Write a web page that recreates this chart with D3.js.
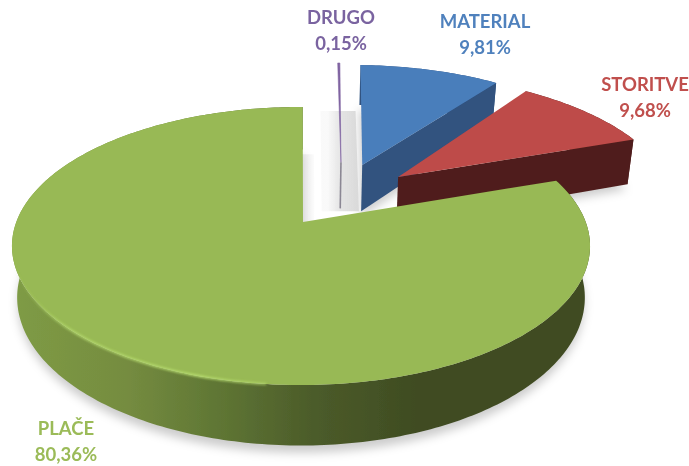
<!DOCTYPE html>
<html>
<head>
<meta charset="utf-8">
<script src="https://cdn.jsdelivr.net/npm/d3@7"></script>
<style>
  html, body { margin: 0; padding: 0; background: #fff; }
  text { font-family: Lato, "Open Sans", sans-serif; font-weight: 700; font-size: 18.5px; text-anchor: middle; }
</style>
</head>
<body>
<div id="chart"></div>
<script>
// chart data
const categories = ["DRUGO", "MATERIAL", "STORITVE", "PLAČE"];
const shares = [0.15, 9.81, 9.68, 80.36];
const shareLabels = ["0,15%", "9,81%", "9,68%", "80,36%"];

// colours, per category
const topColors = ["#7f63a1", "#4a7ebb", "#be4b48", "#98b954"];
const sideColors = ["#8b8794", "#30527f", "#4f1e1c", "#404b20"];
const textColors = ["#7a64a0", "#4f81bd", "#c0504d", "#9bbb59"];

// how far each slice is pulled out, in units of the pie radius
const pullU = [0.152, 0.232, 0.362, 0];
const pullV = [-0.48, -0.456, -0.354, 0];
// small turn of each slice around its own tip, radians
const turn = [0.01, 0.02, 0, 0.007];
// nudge of the tip alone
const tipU = [0, 0, 0, 0.007];
// label centres
const labelX = [341, 485, 645, 66];
const labelY = [24, 28, 91, 435];

const width = 689, height = 466;
const originX = 301, originY = 222;
const scaleU = 284.7, scaleV = 134.9, persp = 0.1727;
const depth = 50;

const svg = d3.select("#chart").append("svg")
  .attr("width", width)
  .attr("height", height)
  .style("display", "block");

const defs = svg.append("defs");
[["soft", 0.5], ["textSoft", 0.35], ["shadowBlur", 5], ["rimBlur", 1.3]].forEach(([id, sd]) => {
  defs.append("filter").attr("id", id)
    .attr("x", "-10%").attr("y", "-10%").attr("width", "120%").attr("height", "120%")
    .append("feGaussianBlur").attr("stdDeviation", sd);
});

function hGradient(id, x1, x2, stops) {
  const grad = defs.append("linearGradient").attr("id", id)
    .attr("gradientUnits", "userSpaceOnUse")
    .attr("x1", x1).attr("x2", x2).attr("y1", 0).attr("y2", 0);
  stops.forEach(([o, c, a]) => grad.append("stop")
    .attr("offset", o).attr("stop-color", c).attr("stop-opacity", a));
}
hGradient("wallGrad", 10, 590, [[0, "#7f9c45", 1], [0.2, "#758c40", 1], [0.36, "#5f7634", 1],
  [0.52, "#4c5c2a", 1], [0.7, "#3f4c22", 1], [1, "#404b20", 1]]);
hGradient("rimGrad", 15, 390, [[0, "#b8de70", 0], [0.14, "#b8de70", 0.75], [0.5, "#b8de70", 0.9], [1, "#b8de70", 0]]);
hGradient("backGrad", 328, 362, [[0, "#d8d8d8", 0.15], [0.4, "#dcdcdc", 0.8], [1, "#d8d8d8", 1]]);
hGradient("backGrad2", 303, 316, [[0, "#d4d4d4", 0.5], [1, "#d8d8d8", 0]]);

// disk coordinates to screen, z = 1 is the underside of the pie
function project(u, v, z) {
  const w = 1 - persp * v;
  const shrink = 1 - 0.018 * z;
  return [
    originX + scaleU * u / w * shrink,
    originY + (scaleV * v + depth * z) / w
  ];
}

function rimPoint(i, angle, z) {
  const a = angle + turn[i];
  return project(pullU[i] + Math.sin(a), pullV[i] - Math.cos(a), z);
}

function tipPoint(i, z) {
  return project(pullU[i] + tipU[i], pullV[i], z);
}

const line = d3.line();

function arcPoints(i, a0, a1, z) {
  const n = Math.max(2, Math.ceil((a1 - a0) * 60));
  return d3.range(n + 1).map(k => rimPoint(i, a0 + (a1 - a0) * k / n, z));
}

const slices = d3.pie().sort(null).value(d => d)(shares);

const root = svg.append("g").attr("filter", "url(#soft)");

// soft shadows under the pie
const shadows = root.append("g").attr("filter", "url(#shadowBlur)").attr("fill", "#000");
slices.forEach((s, i) => {
  if (i === 0) return;
  const pts = arcPoints(i, s.startAngle, s.endAngle, 1.12).concat([tipPoint(i, 1.12)]);
  shadows.append("path").attr("d", line(pts) + "Z").attr("opacity", 0.2);
});

// pale shadow standing behind the pulled out slices
const backShadow = [
  project(0.08, -0.96, 0), project(0.2235, -0.96, 0),
  project(0.2235, -0.456, 1), project(0.08, -0.456, 1)
];
root.append("path").attr("d", line(backShadow) + "Z").attr("fill", "url(#backGrad)");
const backShadow2 = [
  project(0, -0.55, 0), project(0.05, -0.55, 0),
  project(0.05, -0.1, 1), project(0, -0.1, 1)
];
root.append("path").attr("d", line(backShadow2) + "Z").attr("fill", "url(#backGrad2)");

slices.forEach((s, i) => {
  const g = root.append("g");
  const tipTop = tipPoint(i, 0);
  const tipBottom = tipPoint(i, 1);

  if (i === 0) {
    // the smallest slice is hardly more than a line
    g.append("path").attr("d", line([tipTop, tipBottom]))
      .attr("fill", "none").attr("stroke", sideColors[i]).attr("stroke-width", 1.6);
    g.append("path").attr("d", line([tipTop].concat(arcPoints(i, s.startAngle, s.endAngle, 0))) + "Z")
      .attr("fill", topColors[i]).attr("stroke", topColors[i]).attr("stroke-width", 0.6);
    return;
  }

  // outer wall
  const wallFill = i === 3 ? "url(#wallGrad)" : sideColors[i];
  const top = arcPoints(i, s.startAngle, s.endAngle, 0);
  const bottom = arcPoints(i, s.startAngle, s.endAngle, 1).reverse();
  g.append("path").attr("d", line(top.concat(bottom)) + "Z").attr("fill", wallFill);

  // wall along the cut at the end of the slice
  if (i < 3) {
    const c0 = rimPoint(i, s.endAngle, 0), c1 = rimPoint(i, s.endAngle, 1);
    g.append("path").attr("d", line([tipTop, c0, c1, tipBottom]) + "Z").attr("fill", sideColors[i]);
  }

  // top face
  g.append("path")
    .attr("d", line([tipTop].concat(top)) + "Z")
    .attr("fill", topColors[i]);

  // light bevel on the front edge of the big slice
  if (i === 3) {
    g.append("path")
      .attr("d", line(arcPoints(i, Math.PI * 1.03, Math.PI * 1.47, 0)))
      .attr("fill", "none").attr("stroke", "url(#rimGrad)").attr("stroke-width", 2.4)
      .attr("filter", "url(#rimBlur)");
  }
});

// labels
const labels = svg.append("g").attr("filter", "url(#textSoft)");
categories.forEach((name, i) => {
  const t = labels.append("text").attr("fill", textColors[i]);
  t.append("tspan").attr("x", labelX[i]).attr("y", labelY[i]).text(name);
  t.append("tspan").attr("x", labelX[i]).attr("y", labelY[i] + 26).text(shareLabels[i]);
});
</script>
</body>
</html>
